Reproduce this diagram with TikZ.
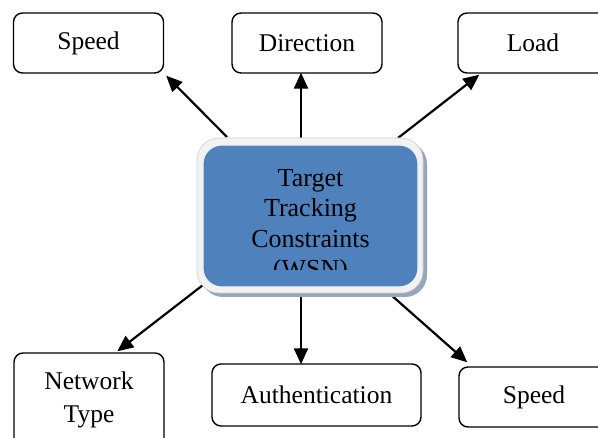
\documentclass[tikz,border=0pt]{standalone}
\usepackage{fontspec}
\setmainfont{Liberation Serif}
\usetikzlibrary{arrows.meta}
\definecolor{coreblue}{HTML}{4F81BD}
\definecolor{rimgray}{HTML}{F2F2F2}
\definecolor{rimline}{HTML}{D0D0D0}
\definecolor{shadowgray}{HTML}{98A6BA}
\tikzset{
  factor/.style={draw=black, line width=1.4pt, rounded corners=9pt, fill=white,
    minimum width=150pt, minimum height=60pt, inner sep=0pt, align=center,
    font=\fontsize{25.5}{32.5}\selectfont},
  link/.style={draw=black, line width=2.2pt, -{Triangle[length=16pt,width=14pt]}},
  hub/.style={fill=rimgray, draw=rimline, line width=0.6pt, rounded corners=22pt,
    minimum width=226pt, minimum height=155pt, inner sep=0pt},
}
\begin{document}
\begin{tikzpicture}[x=1pt,y=-1pt]
\useasboundingbox (0,0) rectangle (598,438);
\fill[white] (0,0) rectangle (598,438);

% constraint boxes
\node[factor] (speedtop) at (88.5,43) {Speed};
\node[factor] (direction) at (307,43) {Direction};
\node[factor] (load) at (533,43) {Load};
\node[factor, minimum height=94pt] (network) at (89,400) {Network\\Type};
\node[factor, minimum width=209pt, minimum height=62pt] (auth) at (316.5,395) {Authentication};
\node[factor] (speedbot) at (534,397) {Speed};

% arrow start points, hidden under the hub
\coordinate (s1) at (227,137);
\coordinate (s2) at (301,140);
\coordinate (s3) at (398,138);
\coordinate (s4) at (203,285);
\coordinate (s5) at (301,292);
\coordinate (s6) at (390,294);

\draw[link] (s1) -- ([shift={(2,2)}]speedtop.south east);
\draw[link] (s2) -- ([yshift=1pt]s2 |- direction.south);
\draw[link] (s3) -- ([shift={(22,1)}]load.south west);
\draw[link] (s4) -- ([shift={(104,-1)}]network.north west);
\draw[link] (s5) -- ([yshift=-1pt]s5 |- auth.north);
\draw[link] (s6) -- ([shift={(9,-4)}]speedbot.north west);

% central hub: shadow, rim and blue core
\fill[shadowgray, rounded corners=22pt] (201,142) rectangle (427,297);
\node[hub] (ctr) at (310,215.5) {};
\fill[coreblue, rounded corners=18pt]
  ([shift={(7,8)}]ctr.north west) rectangle ([shift={(-6,-7)}]ctr.south east);
\begin{scope}
  \clip (204,146) rectangle (417,270);
  \node[anchor=base, align=center, inner sep=0pt,
        font=\fontsize{26}{30.5}\selectfont] (ctrtext) at (310.5,278)
        {Target\\Tracking\\Constraints\\(WSN)};
\end{scope}
\end{tikzpicture}
\end{document}
